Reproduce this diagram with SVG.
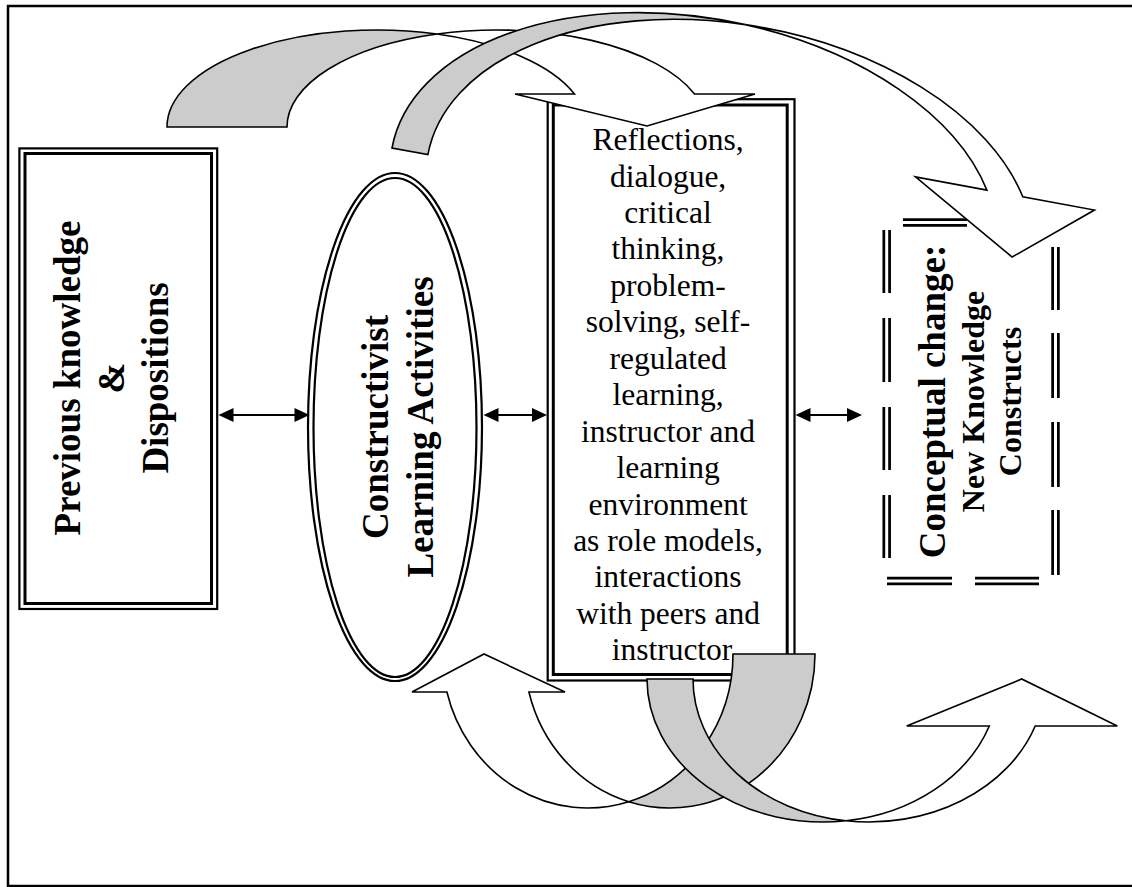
<svg xmlns="http://www.w3.org/2000/svg" xmlns:xlink="http://www.w3.org/1999/xlink" width="1132" height="887" viewBox="0 0 1132 887">
<style>
.frame{fill:none;stroke:#000;stroke-width:2.5}
.ol{fill:none;stroke:#000;stroke-width:2.2}
.il{fill:none;stroke:#000;stroke-width:3}
.bt{font-family:"Liberation Serif","Times New Roman",serif;font-weight:bold;font-size:37px;text-anchor:middle;fill:#000}
.bs{font-size:32px}
.rt{font-family:"Liberation Serif","Times New Roman",serif;font-size:31.5px;text-anchor:middle;fill:#000}
.arw{stroke:#000;stroke-width:1.6;stroke-linejoin:miter}
.g{fill:#cccccc}
.w{fill:#ffffff}
.cn{stroke:#000;stroke-width:2;fill:none}
.ah{fill:#000}
</style>
<defs>
<g id="segs">
<line x1="886.7" y1="230" x2="886.7" y2="293"/>
<line x1="886.7" y1="318" x2="886.7" y2="382"/>
<line x1="886.7" y1="407" x2="886.7" y2="470"/>
<line x1="886.7" y1="495" x2="886.7" y2="558"/>
<line x1="1055.5" y1="247" x2="1055.5" y2="310"/>
<line x1="1055.5" y1="333" x2="1055.5" y2="398"/>
<line x1="1055.5" y1="422" x2="1055.5" y2="487"/>
<line x1="1055.5" y1="510" x2="1055.5" y2="575"/>
<line x1="903" y1="222.5" x2="967" y2="222.5"/>
<line x1="990" y1="222.5" x2="1054" y2="222.5"/>
<line x1="887" y1="581" x2="952" y2="581"/>
<line x1="975" y1="581" x2="1039" y2="581"/>
</g>
</defs>
<rect width="1132" height="887" fill="#fff"/>
<rect class="frame" x="8" y="6" width="1135" height="880"/>

<g id="node-previous">
<rect class="ol" x="19.4" y="148.4" width="197.8" height="460.6"/>
<rect class="il" x="25" y="153.5" width="186.5" height="450"/>
<text class="bt" transform="translate(0,378) rotate(-90)"><tspan x="0" y="79.5">Previous knowledge</tspan><tspan x="0" y="124">&amp;</tspan><tspan x="0" y="168">Dispositions</tspan></text>
</g>

<g id="node-constructivist">
<ellipse class="ol" cx="395" cy="427" rx="87" ry="254"/>
<ellipse class="ol" cx="395" cy="427.5" rx="81.5" ry="249.5"/>
<text class="bt" transform="translate(0,427) rotate(-90)"><tspan x="0" y="388">Constructivist</tspan><tspan x="0" y="433">Learning Activities</tspan></text>
</g>

<g id="node-reflections">
<rect class="ol" x="547.7" y="99.2" width="246.8" height="581.3"/>
<rect class="il" x="553.3" y="105" width="233.9" height="569.5"/>
<text class="rt">
<tspan x="672" y="150">Reflections,</tspan>
<tspan x="672" y="186.5">dialogue,</tspan>
<tspan x="672" y="223">critical</tspan>
<tspan x="672" y="259.4">thinking,</tspan>
<tspan x="672" y="295.8">problem-</tspan>
<tspan x="672" y="332.3">solving, self-</tspan>
<tspan x="672" y="368.7">regulated</tspan>
<tspan x="672" y="405.2">learning,</tspan>
<tspan x="672" y="441.6">instructor and</tspan>
<tspan x="672" y="478">learning</tspan>
<tspan x="672" y="514.5">environment</tspan>
<tspan x="672" y="551">as role models,</tspan>
<tspan x="672" y="587.4">interactions</tspan>
<tspan x="672" y="623.8">with peers and</tspan>
<tspan x="672" y="660">instructor</tspan>
</text>
</g>

<g id="node-conceptual">
<use xlink:href="#segs" href="#segs" stroke="#000" stroke-width="8.5"/>
<use xlink:href="#segs" href="#segs" stroke="#fff" stroke-width="3"/>
<text class="bt" transform="translate(0,401.5) rotate(-90)"><tspan x="0" y="944.5">Conceptual change:</tspan><tspan x="0" y="984" class="bs">New Knowledge</tspan><tspan x="0" y="1021" class="bs">Constructs</tspan></text>
</g>

<g id="connectors">
<line class="cn" x1="232" y1="415" x2="296" y2="415"/>
<path class="ah" d="M218.5 415 L233.5 408 L233.5 422 Z"/>
<path class="ah" d="M309.5 415 L294.5 408 L294.5 422 Z"/>
<line class="cn" x1="497" y1="415" x2="534" y2="415"/>
<path class="ah" d="M483.5 415 L498.5 408 L498.5 422 Z"/>
<path class="ah" d="M547 415 L532 408 L532 422 Z"/>
<line class="cn" x1="809" y1="415" x2="849" y2="415"/>
<path class="ah" d="M795.5 415 L810.5 408 L810.5 422 Z"/>
<path class="ah" d="M862 415 L847 408 L847 422 Z"/>
</g>

<g id="arrow-top-left">
<path class="arw g" d="M167 127 A210 97 0 0 1 437 34 A210 97 0 0 0 287 127 Z"/>
<path class="arw w" d="M437 34 A210 97 0 0 1 694.5 94 L755 94 L647 126 L515 94 L574.5 94 A210 97 0 0 0 437 34 Z"/>
</g>

<g id="arrow-top-right" transform="translate(392,148) rotate(10.5)">
<path class="arw g" d="M0 0 A306.6 186 0 0 1 324.85 -185.67 A306.6 186 0 0 0 36.5 0 Z"/>
<path class="arw w" d="M324.85 -185.67 A306.6 186 0 0 1 629.1 -67 L702 -67 L629.6 -5.8 L520 -67 L592.6 -67 A306.6 186 0 0 0 324.85 -185.67 Z"/>
</g>

<g id="arrow-bottom-left">
<path class="arw g" d="M815 654 A145.3 154 0 0 1 628.7 801.7 A145.3 154 0 0 0 733 654 Z"/>
<path class="arw w" d="M628.7 801.7 A145.3 154 0 0 1 528.9 692 L565 692 L484 654 L412 692 L446.9 692 A145.3 154 0 0 0 628.7 801.7 Z"/>
</g>

<g id="arrow-bottom-right">
<path class="arw g" d="M647 679 A176 143 0 0 0 846 820.8 A176 143 0 0 1 693 679 Z"/>
<path class="arw w" d="M846 820.8 A176 143 0 0 0 1035.2 726 L1117.3 726 L1021.7 679 L906.7 726 L989.3 726 A176 143 0 0 1 846 820.8 Z"/>
</g>
</svg>
